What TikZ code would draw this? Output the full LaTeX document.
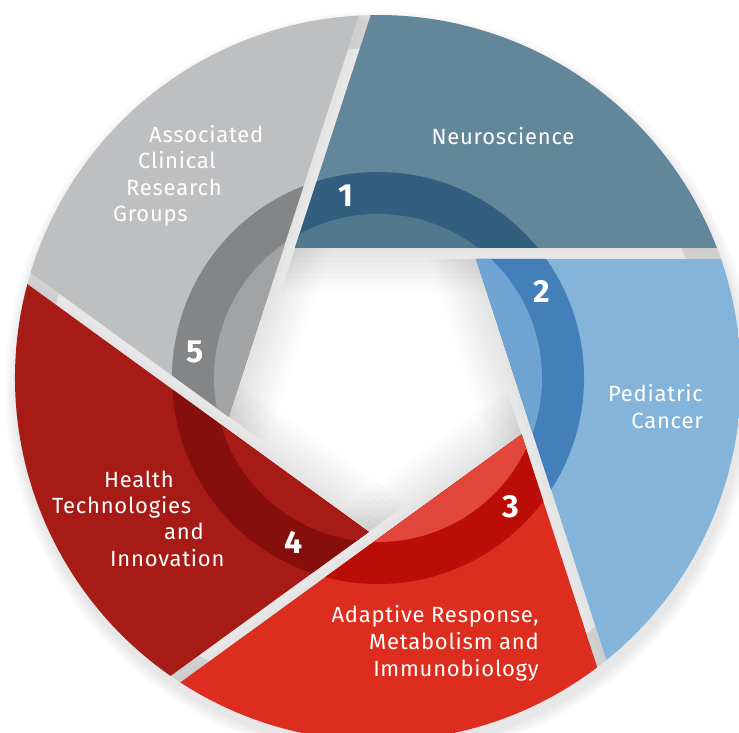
\documentclass[tikz,border=0pt]{standalone}
\usepackage{fontspec}
\setmainfont{Fira Sans}[LetterSpace=3.5]

\definecolor{neuroOut}{HTML}{62869A}
\definecolor{neuroBand}{HTML}{325E80}
\definecolor{neuroIn}{HTML}{52788E}
\definecolor{pedOut}{HTML}{85B4DA}
\definecolor{pedBand}{HTML}{4380BA}
\definecolor{pedIn}{HTML}{6EA3D2}
\definecolor{adaOut}{HTML}{DC2D1E}
\definecolor{adaBand}{HTML}{BB0D08}
\definecolor{adaIn}{HTML}{E2453A}
\definecolor{healthOut}{HTML}{A71B16}
\definecolor{healthBand}{HTML}{860F0E}
\definecolor{healthIn}{HTML}{A71B16}
\definecolor{acrgOut}{HTML}{BEBFC1}
\definecolor{acrgBand}{HTML}{848587}
\definecolor{acrgIn}{HTML}{A2A3A5}

\tikzset{
  blade label/.style={text=white, font=\fontsize{22}{27}\selectfont, inner sep=0pt},
  blade num/.style={text=white, font=\fontsize{32}{32}\selectfont\bfseries, inner sep=0pt},
  shade strip/.style={fill=black, opacity=0.011},
}

\begin{document}
\begin{tikzpicture}[x=1pt,y=1pt]
  \useasboundingbox (-378,-355) rectangle (361,378);
  \clip (-378,-355) rectangle (361,378);
  % soft shadow under the disc
  \foreach \i in {1,...,6}
    \fill[black, opacity=0.015, even odd rule] (2,-8) circle[radius={(363+2*\i)*1pt}] (0,0) circle[radius=330pt];
  % shadow of each blade's leading edge
  \foreach \k in {1,...,5}{
    \begin{scope}[rotate={-72*(\k-1)}]
      \clip (0,0) circle[radius=363pt];
      \foreach \i in {1,...,9}
        \fill[shade strip] (-83,130) -- (400,130) -- (400,{130-5*\i}) -- ({-83-1.625*\i},{130-5*\i}) -- cycle;
    \end{scope}
  }
  % the five blades
  \foreach \k/\cout/\cband/\cin in {1/neuroOut/neuroBand/neuroIn, 2/pedOut/pedBand/pedIn,
      3/adaOut/adaBand/adaIn, 4/healthOut/healthBand/healthIn, 5/acrgOut/acrgBand/acrgIn}{
    \begin{scope}[rotate={-72*(\k-1)}]
      \clip (21:363) arc[start angle=21, end angle=91.15, radius=363pt] -- (-83,130) -- cycle;
      \fill[fill=\cout] (0,0) circle[radius=370pt];
      \fill[fill=\cband] (0,0) circle[radius=206pt];
      \fill[fill=\cin] (0,0) circle[radius=164pt];
    \end{scope}
  }
  % numbers on the ring
  \foreach \k/\a in {1/100, 2/28, 3/-44, 4/-117, 5/172}
    \node[blade num] (num\k) at (\a:185) {\k};
  % labels
  \node[blade label] (neuro) at (125,242) {Neuroscience};
  \node[blade label, anchor=base east] (ped1) at (325,-24) {Pediatric};
  \node[blade label, anchor=base east] (ped2) at (325,-51) {Cancer};
  \node[blade label, anchor=base east] (ada1) at (161,-244) {Adaptive Response,};
  \node[blade label, anchor=base east] (ada2) at (161,-271) {Metabolism and};
  \node[blade label, anchor=base east] (ada3) at (161,-298) {Immunobiology};
  \node[blade label, anchor=base west] (health1) at (-274,-110) {Health};
  \node[blade label, anchor=base west] (health2) at (-326,-136) {Technologies};
  \node[blade label, anchor=base west] (health3) at (-214,-162) {and};
  \node[blade label, anchor=base west] (health4) at (-268,-189) {Innovation};
  \node[blade label, anchor=base west] (acrg1) at (-229,235) {Associated};
  \node[blade label, anchor=base west] (acrg2) at (-240,209) {Clinical};
  \node[blade label, anchor=base west] (acrg3) at (-252,182) {Research};
  \node[blade label, anchor=base west] (acrg4) at (-265,156) {Groups};
\end{tikzpicture}
\end{document}
